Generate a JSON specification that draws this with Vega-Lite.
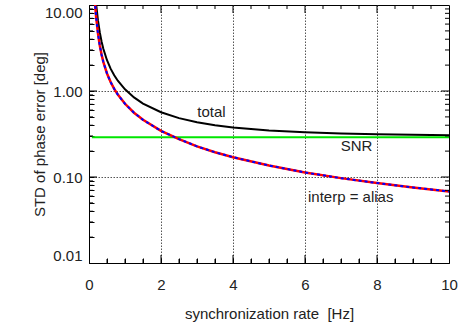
{
  "$schema": "https://vega.github.io/schema/vega-lite/v6.json",
  "width": 360,
  "height": 258,
  "autosize": "none",
  "padding": {"left": 89, "top": 5, "right": 16, "bottom": 62},
  "config": {
    "view": {"stroke": "black", "strokeWidth": 1},
    "font": "Liberation Sans",
    "axis": {"labelFont": "Liberation Sans", "titleFont": "Liberation Sans", "labelFontSize": 15, "titleFontSize": 15, "titleFontWeight": "normal", "labelColor": "#222", "titleColor": "#222", "domainColor": "black", "tickColor": "black"}
  },
  "resolve": {"axis": {"x": "independent", "y": "independent"}},
  "datasets": {
    "curves": [
      {"x": 0.15, "interp": 13.4, "alias": 13.4, "total": 18.95},
      {"x": 0.17, "interp": 10.1, "alias": 10.1, "total": 14.3},
      {"x": 0.2, "interp": 7.15, "alias": 7.15, "total": 10.1},
      {"x": 0.25, "interp": 4.64, "alias": 4.64, "total": 6.57},
      {"x": 0.3, "interp": 3.38, "alias": 3.38, "total": 4.79},
      {"x": 0.35, "interp": 2.64, "alias": 2.64, "total": 3.74},
      {"x": 0.4, "interp": 2.17, "alias": 2.17, "total": 3.08},
      {"x": 0.5, "interp": 1.6, "alias": 1.6, "total": 2.28},
      {"x": 0.6, "interp": 1.27, "alias": 1.27, "total": 1.82},
      {"x": 0.7, "interp": 1.06, "alias": 1.06, "total": 1.527},
      {"x": 0.8, "interp": 0.909, "alias": 0.909, "total": 1.318},
      {"x": 1.0, "interp": 0.71, "alias": 0.71, "total": 1.045},
      {"x": 1.25, "interp": 0.559, "alias": 0.559, "total": 0.842},
      {"x": 1.5, "interp": 0.462, "alias": 0.462, "total": 0.715},
      {"x": 2.0, "interp": 0.344, "alias": 0.344, "total": 0.566},
      {"x": 2.5, "interp": 0.276, "alias": 0.276, "total": 0.484},
      {"x": 3.0, "interp": 0.227, "alias": 0.227, "total": 0.433},
      {"x": 3.5, "interp": 0.194, "alias": 0.194, "total": 0.399},
      {"x": 4.0, "interp": 0.17, "alias": 0.17, "total": 0.377},
      {"x": 5.0, "interp": 0.136, "alias": 0.136, "total": 0.348},
      {"x": 6.0, "interp": 0.113, "alias": 0.113, "total": 0.331},
      {"x": 7.0, "interp": 0.097, "alias": 0.097, "total": 0.321},
      {"x": 8.0, "interp": 0.085, "alias": 0.085, "total": 0.314},
      {"x": 9.0, "interp": 0.0756, "alias": 0.0756, "total": 0.309},
      {"x": 10.0, "interp": 0.068, "alias": 0.068, "total": 0.3055}
    ],
    "snrline": [
      {"x": 0.08, "snr": 0.29},
      {"x": 10.0, "snr": 0.29}
    ],
    "labels": [
      {"x": 3.4, "y": 0.575, "text": "total"},
      {"x": 7.43, "y": 0.231, "text": "SNR"},
      {"x": 7.27, "y": 0.058, "text": "interp = alias"}
    ],
    "xticks": [
      {"v": 0.5, "kind": "minor"}, {"v": 1, "kind": "minor"}, {"v": 1.5, "kind": "minor"}, {"v": 2, "kind": "major"},
      {"v": 2.5, "kind": "minor"}, {"v": 3, "kind": "minor"}, {"v": 3.5, "kind": "minor"}, {"v": 4, "kind": "major"},
      {"v": 4.5, "kind": "minor"}, {"v": 5, "kind": "minor"}, {"v": 5.5, "kind": "minor"}, {"v": 6, "kind": "major"},
      {"v": 6.5, "kind": "minor"}, {"v": 7, "kind": "minor"}, {"v": 7.5, "kind": "minor"}, {"v": 8, "kind": "major"},
      {"v": 8.5, "kind": "minor"}, {"v": 9, "kind": "minor"}, {"v": 9.5, "kind": "minor"}
    ],
    "yticks": [
      {"v": 0.02, "kind": "minor"}, {"v": 0.03, "kind": "minor"}, {"v": 0.04, "kind": "minor"}, {"v": 0.05, "kind": "minor"},
      {"v": 0.06, "kind": "minor"}, {"v": 0.07, "kind": "minor"}, {"v": 0.08, "kind": "minor"}, {"v": 0.09, "kind": "minor"},
      {"v": 0.1, "kind": "major"},
      {"v": 0.2, "kind": "minor"}, {"v": 0.3, "kind": "minor"}, {"v": 0.4, "kind": "minor"}, {"v": 0.5, "kind": "minor"},
      {"v": 0.6, "kind": "minor"}, {"v": 0.7, "kind": "minor"}, {"v": 0.8, "kind": "minor"}, {"v": 0.9, "kind": "minor"},
      {"v": 1, "kind": "major"},
      {"v": 2, "kind": "minor"}, {"v": 3, "kind": "minor"}, {"v": 4, "kind": "minor"}, {"v": 5, "kind": "minor"},
      {"v": 6, "kind": "minor"}, {"v": 7, "kind": "minor"}, {"v": 8, "kind": "minor"}, {"v": 9, "kind": "minor"}
    ]
  },
  "layer": [
    {
      "data": {"name": "curves"},
      "mark": {"type": "line", "color": "black", "strokeWidth": 2, "clip": true},
      "encoding": {
        "x": {"field": "x", "type": "quantitative", "scale": {"domain": [0, 10], "nice": false, "zero": false},
          "axis": {"orient": "bottom", "title": "synchronization rate \u00a0[Hz]", "values": [0,0.5,1,1.5,2,2.5,3,3.5,4,4.5,5,5.5,6,6.5,7,7.5,8,8.5,9,9.5,10],
            "labelExpr": "datum.value % 2 == 0 ? format(datum.value, 'd') : ''",
            "tickSize": -5,
            "labelPadding": 19, "titlePadding": 14, "labelFlush": false, "labelOverlap": false,
            "grid": true, "gridColor": "#555", "gridDash": [1.5, 1.5],
            "gridOpacity": {"condition": {"test": "datum.value % 2 == 0 && datum.value > 0 && datum.value < 10", "value": 1}, "value": 0}}},
        "y": {"field": "total", "type": "quantitative", "scale": {"type": "log", "domain": [0.01, 10], "nice": false},
          "axis": {"orient": "left", "title": "STD of phase error [deg]",
            "values": [0.01,0.02,0.03,0.04,0.05,0.06,0.07,0.08,0.09,0.1,0.2,0.3,0.4,0.5,0.6,0.7,0.8,0.9,1,2,3,4,5,6,7,8,9,10],
            "labelExpr": "(datum.value == 0.01 || datum.value == 0.1 || datum.value == 1 || datum.value == 10) ? format(datum.value, '.2f') : ''",
            "tickSize": -5,
            "labelPadding": 12, "titlePadding": -3, "labelFlush": true, "labelOverlap": false,
            "grid": true, "gridColor": "#555", "gridDash": [1.5, 1.5],
            "gridOpacity": {"condition": {"test": "datum.value == 0.1 || datum.value == 1", "value": 1}, "value": 0}}}
      }
    },
    {
      "data": {"name": "snrline"},
      "mark": {"type": "line", "color": "#00e600", "strokeWidth": 2, "clip": true},
      "encoding": {
        "x": {"field": "x", "type": "quantitative", "axis": null},
        "y": {"field": "snr", "type": "quantitative", "axis": null}
      }
    },
    {
      "data": {"name": "curves"},
      "mark": {"type": "line", "color": "#ff0000", "strokeWidth": 2.5, "clip": true},
      "encoding": {
        "x": {"field": "x", "type": "quantitative", "axis": null},
        "y": {"field": "alias", "type": "quantitative", "axis": null}
      }
    },
    {
      "data": {"name": "curves"},
      "mark": {"type": "line", "color": "#0000ff", "strokeWidth": 2, "strokeDash": [3, 3], "clip": true},
      "encoding": {
        "x": {"field": "x", "type": "quantitative", "axis": null},
        "y": {"field": "interp", "type": "quantitative", "axis": null}
      }
    },
    {
      "data": {"name": "xticks"},
      "mark": {"type": "tick", "orient": "vertical", "color": "black", "thickness": 1, "clip": true, "opacity": 1},
      "encoding": {
        "x": {"field": "v", "type": "quantitative", "axis": null},
        "y": {"datum": 0.01, "type": "quantitative", "axis": null},
        "size": {"field": "kind", "type": "nominal", "scale": {"domain": ["minor", "major"], "range": [8, 16]}, "legend": null}
      }
    },
    {
      "data": {"name": "xticks"},
      "mark": {"type": "tick", "orient": "vertical", "color": "black", "thickness": 1, "clip": true, "opacity": 1},
      "encoding": {
        "x": {"field": "v", "type": "quantitative", "axis": null},
        "y": {"datum": 10, "type": "quantitative", "axis": null},
        "size": {"field": "kind", "type": "nominal", "scale": {"domain": ["minor", "major"], "range": [8, 16]}, "legend": null}
      }
    },
    {
      "data": {"name": "yticks"},
      "mark": {"type": "tick", "orient": "horizontal", "color": "black", "thickness": 1, "clip": true, "opacity": 1},
      "encoding": {
        "y": {"field": "v", "type": "quantitative", "axis": null},
        "x": {"datum": 0, "type": "quantitative", "axis": null},
        "size": {"field": "kind", "type": "nominal", "scale": {"domain": ["minor", "major"], "range": [8, 16]}, "legend": null}
      }
    },
    {
      "data": {"name": "yticks"},
      "mark": {"type": "tick", "orient": "horizontal", "color": "black", "thickness": 1, "clip": true, "opacity": 1},
      "encoding": {
        "y": {"field": "v", "type": "quantitative", "axis": null},
        "x": {"datum": 10, "type": "quantitative", "axis": null},
        "size": {"field": "kind", "type": "nominal", "scale": {"domain": ["minor", "major"], "range": [8, 16]}, "legend": null}
      }
    },
    {
      "data": {"name": "labels"},
      "mark": {"type": "text", "font": "Liberation Sans", "fontSize": 15, "color": "#222"},
      "encoding": {
        "x": {"field": "x", "type": "quantitative", "axis": null},
        "y": {"field": "y", "type": "quantitative", "axis": null},
        "text": {"field": "text"}
      }
    }
  ]
}
